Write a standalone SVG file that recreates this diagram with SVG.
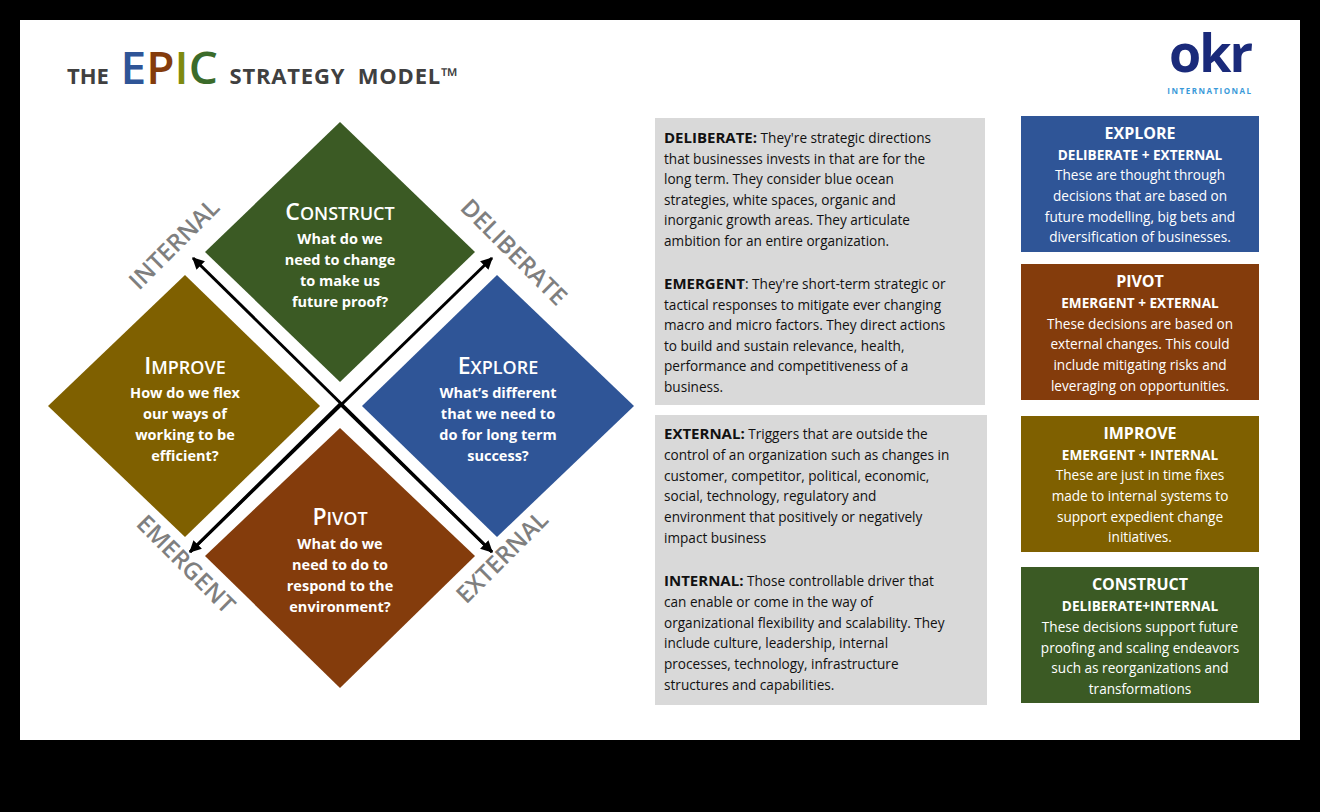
<svg xmlns="http://www.w3.org/2000/svg" width="1320" height="812" viewBox="0 0 1320 812">
<defs>
<marker id="ah" viewBox="0 0 10 10" refX="9" refY="5" markerWidth="4" markerHeight="4" orient="auto"><path d="M0,0 L10,5 L0,10 z" fill="#000"/></marker>
</defs>
<style>
.dt{font-family:"Open Sans","Liberation Sans",sans-serif;font-weight:bold;fill:#fff;text-anchor:middle;font-size:14.5px}
.dh{font-family:"Open Sans","Liberation Sans",sans-serif;font-weight:600;fill:#fff;text-anchor:middle;font-size:23px}
.ax{font-family:"Open Sans","Liberation Sans",sans-serif;font-weight:600;fill:#7f7f7f;font-size:24px;text-anchor:middle}
.gt{font-family:"Open Sans","Liberation Sans",sans-serif;fill:#111;font-size:13.6px}
.gt .b{font-weight:bold;font-size:15px}
.rt{font-family:"Open Sans","Liberation Sans",sans-serif;fill:#fff;text-anchor:middle;font-size:13.6px}
.rt .h{font-weight:bold;font-size:16px}
.rt .s{font-weight:bold;font-size:13.6px}
</style>
<rect width="1320" height="812" fill="#000"/>
<rect x="20" y="20" width="1280" height="720" fill="#fff"/>
<g id="title" font-family="'Open Sans','Liberation Sans',sans-serif" font-weight="bold">
<text x="67" y="84" font-size="22" fill="#404040" word-spacing="6">THE <tspan font-size="46" font-weight="600" fill="#2f5597">E</tspan><tspan font-size="46" font-weight="600" fill="#843c0c">P</tspan><tspan font-size="46" font-weight="600" fill="#7f8a10">I</tspan><tspan font-size="46" font-weight="600" fill="#3b6b2a">C</tspan> <tspan letter-spacing="0.8">STRATEGY MODEL™</tspan></text>
</g>
<g id="logo" font-family="'Open Sans','Liberation Sans',sans-serif" text-anchor="middle">
<text x="1210" y="72" font-size="52" font-weight="bold" fill="#1a2a7a" letter-spacing="-2">okr</text>
<text x="1210" y="94" font-size="8" font-weight="bold" fill="#3a9ad9" letter-spacing="1.5">INTERNATIONAL</text>
</g>
<g id="construct">
<polygon points="340,122 475,252 340,382 205,252" fill="#3b5a24"/>
<text class="dh" x="340" y="220">C<tspan font-size="18">ONSTRUCT</tspan></text>
<text class="dt" x="340" y="244">What do we</text><text class="dt" x="340" y="265">need to change</text><text class="dt" x="340" y="286">to make us</text><text class="dt" x="340" y="307">future proof?</text>
</g>
<g id="improve">
<polygon points="185,275 320,406 185,537 48,406" fill="#7f6000"/>
<text class="dh" x="185" y="374">I<tspan font-size="18">MPROVE</tspan></text>
<text class="dt" x="185" y="398">How do we flex</text><text class="dt" x="185" y="419">our ways of</text><text class="dt" x="185" y="440">working to be</text><text class="dt" x="185" y="461">efficient?</text>
</g>
<g id="explore">
<polygon points="497,275 634,406 497,537 362,406" fill="#2f5597"/>
<text class="dh" x="498" y="374">E<tspan font-size="18">XPLORE</tspan></text>
<text class="dt" x="498" y="398">What’s different</text><text class="dt" x="498" y="419">that we need to</text><text class="dt" x="498" y="440">do for long term</text><text class="dt" x="498" y="461">success?</text>
</g>
<g id="pivot">
<polygon points="340,428 475,556 340,688 205,556" fill="#843c0c"/>
<text class="dh" x="340" y="525">P<tspan font-size="18">IVOT</tspan></text>
<text class="dt" x="340" y="549">What do we</text><text class="dt" x="340" y="570">need to do to</text><text class="dt" x="340" y="591">respond to the</text><text class="dt" x="340" y="612">environment?</text>
</g>
<g id="connectors" stroke="#000" stroke-width="3" fill="none" marker-end="url(#ah)">
<line x1="492" y1="552" x2="193" y2="258"/>
<line x1="190" y1="552" x2="492" y2="258"/>
<line x1="340" y1="404" x2="492" y2="552"/>
<line x1="340" y1="404" x2="190" y2="552"/>
</g>
<g id="axis-labels">
<text class="ax" transform="translate(180,250) rotate(-45)">INTERNAL</text>
<text class="ax" transform="translate(508,258) rotate(45)">DELIBERATE</text>
<text class="ax" transform="translate(180,570) rotate(45)">EMERGENT</text>
<text class="ax" transform="translate(508,563) rotate(-45)">EXTERNAL</text>
</g>
<g id="definitions-1">
<rect x="655" y="118" width="330" height="287" fill="#d9d9d9"/>
<text class="gt" x="664" y="143"><tspan class="b">DELIBERATE:</tspan> They're strategic directions</text>
<text class="gt" x="664" y="164">that businesses invests in that are for the</text>
<text class="gt" x="664" y="184">long term. They consider blue ocean</text>
<text class="gt" x="664" y="205">strategies, white spaces, organic and</text>
<text class="gt" x="664" y="225">inorganic growth areas. They articulate</text>
<text class="gt" x="664" y="246">ambition for an entire organization.</text>
<text class="gt" x="664" y="289"><tspan class="b">EMERGENT</tspan>: They're short-term strategic or</text>
<text class="gt" x="664" y="310">tactical responses to mitigate ever changing</text>
<text class="gt" x="664" y="330">macro and micro factors. They direct actions</text>
<text class="gt" x="664" y="351">to build and sustain relevance, health,</text>
<text class="gt" x="664" y="371">performance and competitiveness of a</text>
<text class="gt" x="664" y="392">business.</text>
</g>
<g id="definitions-2">
<rect x="655" y="415" width="332" height="290" fill="#d9d9d9"/>
<text class="gt" x="664" y="439"><tspan class="b">EXTERNAL:</tspan> Triggers that are outside the</text>
<text class="gt" x="664" y="460">control of an organization such as changes in</text>
<text class="gt" x="664" y="481">customer, competitor, political, economic,</text>
<text class="gt" x="664" y="501">social, technology, regulatory and</text>
<text class="gt" x="664" y="522">environment that positively or negatively</text>
<text class="gt" x="664" y="543">impact business</text>
<text class="gt" x="664" y="586"><tspan class="b">INTERNAL:</tspan> Those controllable driver that</text>
<text class="gt" x="664" y="607">can enable or come in the way of</text>
<text class="gt" x="664" y="628">organizational flexibility and scalability. They</text>
<text class="gt" x="664" y="648">include culture, leadership, internal</text>
<text class="gt" x="664" y="669">processes, technology, infrastructure</text>
<text class="gt" x="664" y="690">structures and capabilities.</text>
</g>
<g id="box-explore">
<rect x="1021" y="116" width="238" height="136" fill="#2f5597"/>
<text class="rt" x="1140" y="139"><tspan class="h">EXPLORE</tspan></text>
<text class="rt" x="1140" y="160"><tspan class="s">DELIBERATE + EXTERNAL</tspan></text>
<text class="rt" x="1140" y="180">These are thought through</text>
<text class="rt" x="1140" y="201">decisions that are based on</text>
<text class="rt" x="1140" y="222">future modelling, big bets and</text>
<text class="rt" x="1140" y="242">diversification of businesses.</text>
</g>
<g id="box-pivot">
<rect x="1021" y="264" width="238" height="136" fill="#843c0c"/>
<text class="rt" x="1140" y="287"><tspan class="h">PIVOT</tspan></text>
<text class="rt" x="1140" y="308"><tspan class="s">EMERGENT + EXTERNAL</tspan></text>
<text class="rt" x="1140" y="329">These decisions are based on</text>
<text class="rt" x="1140" y="349">external changes. This could</text>
<text class="rt" x="1140" y="370">include mitigating risks and</text>
<text class="rt" x="1140" y="391">leveraging on opportunities.</text>
</g>
<g id="box-improve">
<rect x="1021" y="416" width="238" height="136" fill="#7f6000"/>
<text class="rt" x="1140" y="439"><tspan class="h">IMPROVE</tspan></text>
<text class="rt" x="1140" y="460"><tspan class="s">EMERGENT + INTERNAL</tspan></text>
<text class="rt" x="1140" y="480">These are just in time fixes</text>
<text class="rt" x="1140" y="501">made to internal systems to</text>
<text class="rt" x="1140" y="522">support expedient change</text>
<text class="rt" x="1140" y="542">initiatives.</text>
</g>
<g id="box-construct">
<rect x="1021" y="567" width="238" height="136" fill="#3b5a24"/>
<text class="rt" x="1140" y="590"><tspan class="h">CONSTRUCT</tspan></text>
<text class="rt" x="1140" y="611"><tspan class="s">DELIBERATE+INTERNAL</tspan></text>
<text class="rt" x="1140" y="632">These decisions support future</text>
<text class="rt" x="1140" y="653">proofing and scaling endeavors</text>
<text class="rt" x="1140" y="673">such as reorganizations and</text>
<text class="rt" x="1140" y="694">transformations</text>
</g>
</svg>
